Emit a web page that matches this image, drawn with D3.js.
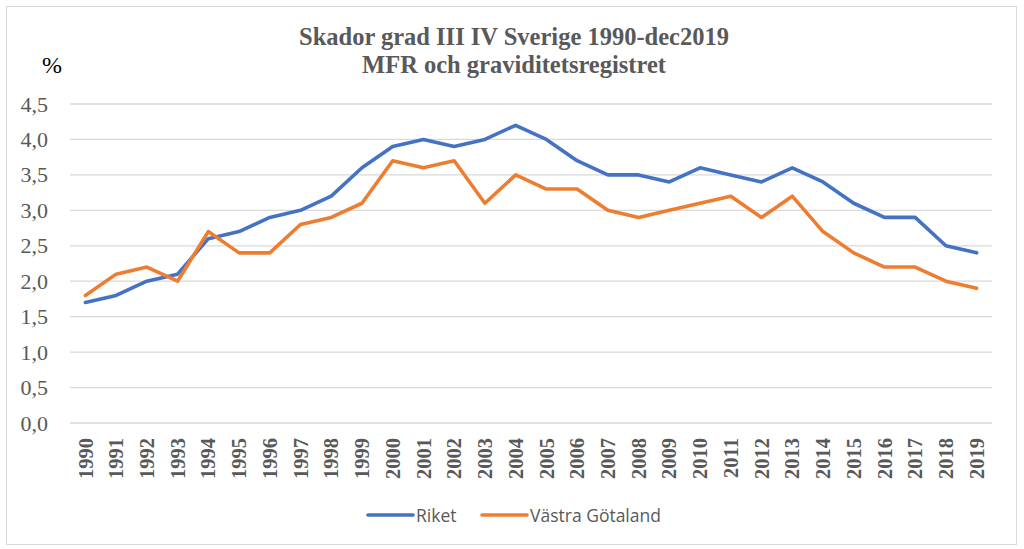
<!DOCTYPE html>
<html><head><meta charset="utf-8">
<script src="https://cdn.jsdelivr.net/npm/d3@7"></script>
<style>body{margin:0;background:#fff}svg{display:block}</style>
</head><body><div id="chart"></div>
<script>
const years = d3.range(1990, 2020).map(String);
const riket = [1.7,1.8,2.0,2.1,2.6,2.7,2.9,3.0,3.2,3.6,3.9,4.0,3.9,4.0,4.2,4.0,3.7,3.5,3.5,3.4,3.6,3.5,3.4,3.6,3.4,3.1,2.9,2.9,2.5,2.4];
const vastra = [1.8,2.1,2.2,2.0,2.7,2.4,2.4,2.8,2.9,3.1,3.7,3.6,3.7,3.1,3.5,3.3,3.3,3.0,2.9,3.0,3.1,3.2,2.9,3.2,2.7,2.4,2.2,2.2,2.0,1.9];
const yTicks = [0,0.5,1,1.5,2,2.5,3,3.5,4,4.5];
const seriesNames = ["Riket","Västra Götaland"];
const colors = ["#4472C4","#ED7D31"];
const titleLines = ["Skador grad III IV Sverige 1990-dec2019","MFR och graviditetsregistret"];

const W=1024,H=549;
const svg=d3.select("#chart").append("svg").attr("width",W).attr("height",H);
svg.append("rect").attr("x",6.5).attr("y",6.5).attr("width",1010).attr("height",538)
  .attr("fill","#fff").attr("stroke","#d9d9d9").attr("stroke-width",1);

const m={l:70,r:992,t:104,b:423};
const x=d3.scaleBand().domain(years).range([m.l,m.r]);
const y=d3.scaleLinear().domain([0,4.5]).range([m.b,m.t]);

svg.append("g").selectAll("line").data(yTicks).join("line")
  .attr("x1",m.l).attr("x2",m.r).attr("y1",d=>y(d)).attr("y2",d=>y(d))
  .attr("stroke","#d9d9d9").attr("stroke-width",1.3);

const fmt=d=>d3.format(".1f")(d).replace(".",",");
const ya=svg.append("g").attr("transform",`translate(${m.l},0)`)
  .call(d3.axisLeft(y).tickValues(yTicks).tickFormat(fmt).tickSize(0).tickPadding(22));
ya.select(".domain").remove();
ya.selectAll("text").attr("font-family","Liberation Serif").attr("font-size",22).attr("fill","#595959");

const xa=svg.append("g").attr("transform",`translate(0,${m.b})`)
  .call(d3.axisBottom(x).tickSize(0));
xa.select(".domain").remove();
xa.selectAll("text").attr("font-family","Liberation Serif").attr("font-size",20.5).attr("font-weight","bold")
  .attr("fill","#595959").attr("transform","rotate(-90)").attr("text-anchor","end")
  .attr("x",-15).attr("y",0).attr("dy","0.35em");

const line=d3.line().x((d,i)=>x(years[i])+x.bandwidth()/2).y(d=>y(d));
[riket,vastra].forEach((s,k)=>{
  svg.append("path").datum(s).attr("d",line).attr("fill","none")
    .attr("stroke",colors[k]).attr("stroke-width",3.6).attr("stroke-linejoin","round").attr("stroke-linecap","round");
});

svg.append("g").selectAll("text").data(titleLines).join("text")
  .attr("x",514).attr("y",(d,i)=>45+i*28).attr("text-anchor","middle")
  .attr("font-family","Liberation Serif").attr("font-weight","bold").attr("font-size",24.5)
  .attr("fill","#595959").text(d=>d);
svg.append("text").attr("x",52).attr("y",73).attr("text-anchor","middle")
  .attr("font-family","Liberation Serif").attr("font-size",24).attr("fill","#000").text("%");

const legX=[368,482];
const lg=svg.append("g");
seriesNames.forEach((n,k)=>{
  lg.append("line").attr("x1",legX[k]).attr("x2",legX[k]+45).attr("y1",515).attr("y2",515)
    .attr("stroke",colors[k]).attr("stroke-width",3.6).attr("stroke-linecap","round");
  lg.append("text").attr("x",legX[k]+48).attr("y",521.5).attr("font-family","Open Sans")
    .attr("font-size",17.5).attr("fill","#595959").text(n);
});
</script></body></html>
